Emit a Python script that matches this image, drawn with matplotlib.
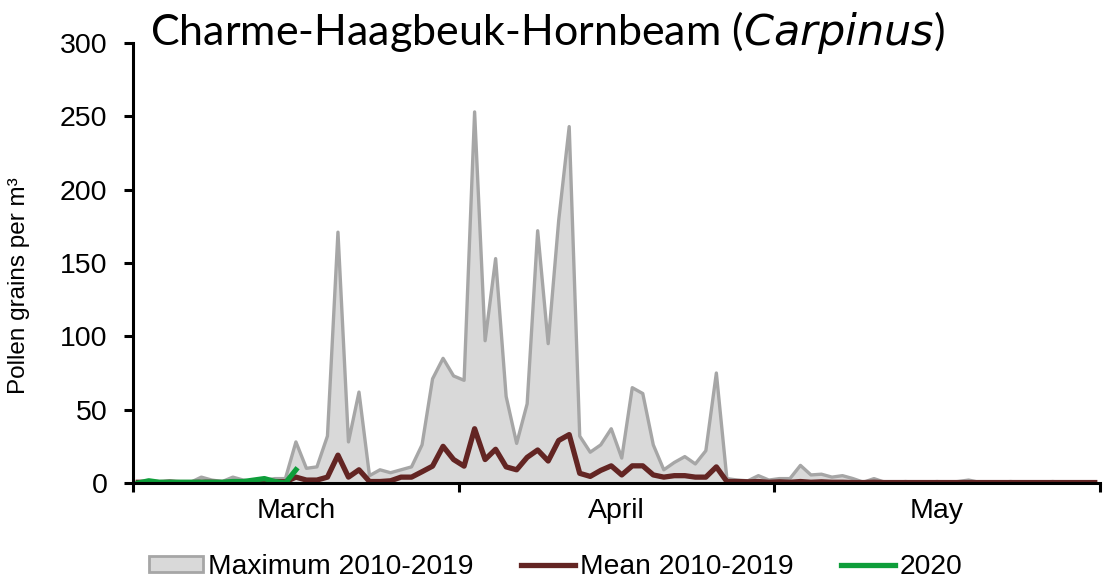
import numpy as np
import matplotlib.pyplot as plt
from matplotlib.patches import Patch
from matplotlib.lines import Line2D

# daily values, 1 March - 31 May (92 days)
days = np.arange(92)

maximum = [0, 1.5, 0.5, 1.5, 0.5, 0.5, 4, 2, 1, 4, 2, 1, 2, 3, 3,
           28, 10, 11, 32, 171, 28, 62, 5, 9, 7, 9, 11, 26, 71, 85,
           73, 70, 253, 97, 153, 59, 27, 54, 172, 95, 179, 243, 32, 21, 26,
           37, 17, 65, 61, 26, 9, 14, 18, 13, 22, 75, 3, 2, 1.5, 5,
           2, 3, 3, 12, 5.5, 6, 4, 5, 3, 0.5, 3, 0.5,
           0.5, 1, 0.5, 0.5, 1, 0.5, 1, 2, 0.5, 0.5, 0.5, 1, 0.5, 0.5,
           0.5, 1, 0.5, 0.5, 0.5, 0.5]

mean = [0.5, 0.5, 0.3, 0.5, 0.3, 0.3, 0.5, 0.5, 0.3, 0.5, 0.5, 0.3, 0.8, 1, 0.8,
        4, 2, 2, 4, 19, 4, 9, 1, 1, 1.5, 4, 4, 7.7, 11.5, 25,
        16, 11.5, 37, 16, 23, 11, 9, 17.5, 22.5, 15, 29, 33, 6.6, 4.5, 8.6,
        11.7, 5.5, 11.7, 11.7, 5.5, 4, 5, 5, 4, 4, 11, 1, 1, 0.8, 1,
        0.5, 0.8, 0.5, 1, 0.5, 0.8, 0.5, 0.5, 0.3, 0.3, 0.5, 0.3,
        0.3, 0.3, 0.3, 0.3, 0.3, 0.3, 0.3, 0.3, 0.3, 0.3, 0.3, 0.3, 0.3, 0.3,
        0.3, 0.3, 0.3, 0.3, 0.3, 0.3]

y2020 = [0, 1.5, 0.5, 0.5, 0.5, 0.5, 0.5, 0.5, 0.5, 1, 1, 2, 3, 1, 0, 9]

months = ['March', 'April', 'May']
month_starts = [0, 31, 61, 92]

c_fill = '#D9D9D9'
c_max = '#A6A6A6'
c_mean = '#632523'
c_2020 = '#0E9E3A'

fig = plt.figure(figsize=(11.06, 5.84), dpi=100)
ax = fig.add_axes([133 / 1106, 101 / 584, 967 / 1106, 440 / 584])

x = days + 0.5
ax.fill_between(x, maximum, color=c_fill, lw=0)
ax.plot(x, maximum, color=c_max, lw=2.4)
ax.plot(x, mean, color=c_mean, lw=3.8)
ax.plot(np.arange(len(y2020)) + 0.5, y2020, color=c_2020, lw=3.8)

ax.set_xlim(0, 92)
ax.set_ylim(0, 300)
ax.set_yticks(range(0, 301, 50))
ax.set_xticks(month_starts)
ax.set_xticklabels([])
ax.set_xticks([(month_starts[i] + month_starts[i + 1]) / 2 for i in range(3)], minor=True)
ax.set_xticklabels(months, minor=True)
ax.tick_params(axis='x', which='minor', length=0, pad=11, labelsize=20.5)
ax.tick_params(axis='x', which='major', length=6.5, width=2.2, direction='out')
ax.tick_params(axis='y', length=6.5, width=2.2, labelsize=20.5, pad=12)

for s in ['top', 'right']:
    ax.spines[s].set_visible(False)
for s in ['left', 'bottom']:
    ax.spines[s].set_linewidth(2.2)

for lab in ax.get_xticklabels(minor=True) + ax.get_yticklabels():
    lab.set_fontfamily('Liberation Sans')

fig.text(19 / 1106, 1 - 286 / 584, 'Pollen grains per m³', rotation=90, fontsize=17.5,
         family='Liberation Sans', ha='center', va='center')

fig.text(150 / 1106, 1 - 45 / 584, 'Charme-Haagbeuk-Hornbeam ($\\mathit{Carpinus}$)',
         fontsize=31, family='Lato', ha='left', va='baseline')

handles = [Patch(facecolor=c_fill, edgecolor=c_max, lw=2),
           Line2D([], [], color=c_mean, lw=3.8),
           Line2D([], [], color=c_2020, lw=3.8)]
labels = ['Maximum 2010-2019', 'Mean 2010-2019', '2020']
fig.legend(handles, labels, loc='center', bbox_to_anchor=(556 / 1106, 1 - 567 / 584), ncol=3,
           frameon=False, prop={'family': 'Liberation Sans', 'size': 20.3},
           handlelength=1.9, handletextpad=0.18, columnspacing=1.7, handleheight=0.5,
           borderpad=0)

fig.savefig('out.png', dpi=100)
